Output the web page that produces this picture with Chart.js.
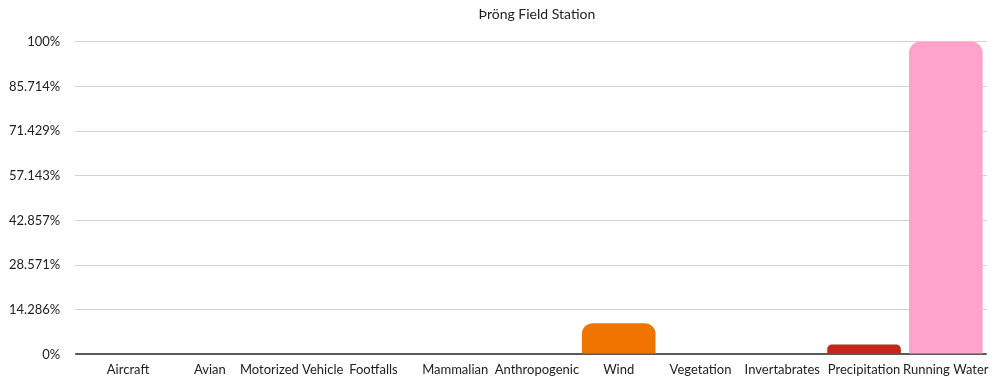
<!DOCTYPE html>
<html>
<head>
<meta charset="utf-8">
<script src="https://cdn.jsdelivr.net/npm/chart.js@4"></script>
<style>
  html, body { margin: 0; padding: 0; background: #ffffff; }
  #wrap { width: 997px; height: 381px; position: relative; }
</style>
</head>
<body>
<div id="wrap"><canvas id="chart"></canvas></div>
<script>
// Sound source categories recorded at the station
const categories = ['Aircraft', 'Avian', 'Motorized Vehicle', 'Footfalls', 'Mammalian',
  'Anthropogenic', 'Wind', 'Vegetation', 'Invertabrates', 'Precipitation', 'Running Water'];

// Share of detections per category (fraction of the maximum)
const shares = [0, 0, 0, 0, 0, 0, 0.10, 0, 0, 0.032, 1.0];

// Bar colours per category
const barColors = ['#4e79a7', '#59a14f', '#9c755f', '#76b7b2', '#edc948',
  '#b07aa1', '#f07400', '#8cd17d', '#86bcb6', '#c0291a', '#ffa2cc'];

// Y-axis tick labels, evenly spaced in sevenths
const yTickLabels = ['0%', '14.286%', '28.571%', '42.857%', '57.143%', '71.429%', '85.714%', '100%'];

const FONT = 'Lato, "Noto Sans", sans-serif';

new Chart(document.getElementById('chart'), {
  type: 'bar',
  data: {
    labels: categories,
    datasets: [{
      data: shares,
      backgroundColor: barColors,
      borderRadius: { topLeft: 11, topRight: 11, bottomLeft: 0, bottomRight: 0 },
      borderSkipped: 'bottom',
      barPercentage: 0.9,
      categoryPercentage: 1.0
    }]
  },
  options: {
    responsive: true,
    maintainAspectRatio: false,
    animation: false,
    layout: { padding: { left: -6, right: 8, top: 0, bottom: -5 } },
    plugins: {
      legend: { display: false },
      tooltip: { enabled: false },
      title: {
        display: true,
        fullSize: false,
        text: 'Þröng Field Station',
        color: '#222222',
        font: { family: FONT, size: 14, weight: 'normal' },
        padding: { top: 6, bottom: 19 }
      }
    },
    scales: {
      x: {
        grid: { display: false, drawTicks: false },
        border: { display: false },
        ticks: {
          color: '#222222',
          font: { family: FONT, size: 13 },
          padding: 8,
          maxRotation: 0,
          autoSkip: false
        }
      },
      y: {
        min: 0,
        max: 1,
        afterBuildTicks: (axis) => {
          axis.ticks = yTickLabels.map((_, i) => ({ value: i / (yTickLabels.length - 1) }));
        },
        grid: {
          color: (ctx) => ctx.index === 0 ? '#5a5a5a' : '#d0d0d0',
          lineWidth: (ctx) => ctx.index === 0 ? 2 : 1,
          tickLength: 12,
          drawTicks: true
        },
        border: { display: false },
        ticks: {
          color: '#222222',
          font: { family: FONT, size: 13 },
          padding: 15,
          callback: (value, index) => yTickLabels[index]
        }
      }
    }
  }
});
</script>
</body>
</html>
